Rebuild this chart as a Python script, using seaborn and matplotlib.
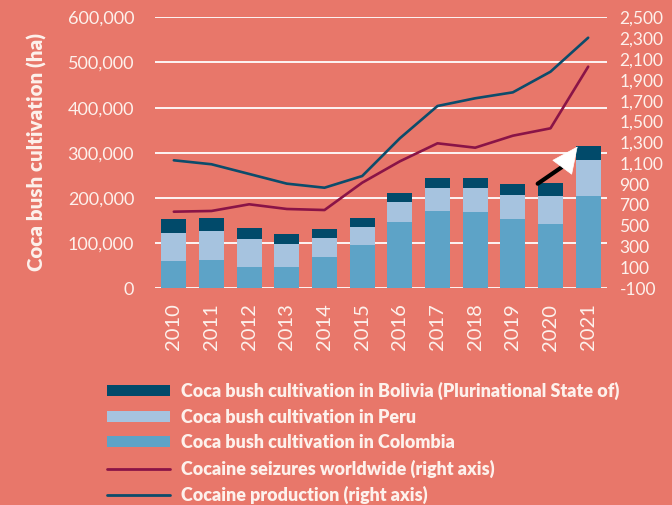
import numpy as np
import pandas as pd
import matplotlib
matplotlib.use("Agg")
import matplotlib.pyplot as plt
import seaborn as sns
from matplotlib.patches import Patch
from matplotlib.lines import Line2D

# ---- data ----
years = [2010, 2011, 2012, 2013, 2014, 2015, 2016, 2017, 2018, 2019, 2020, 2021]
colombia = [61000, 63500, 48000, 48000, 69000, 96000, 146000, 171000, 169000, 154000, 143000, 204000]
peru = [62000, 64000, 60500, 49500, 42500, 40500, 44000, 50000, 54000, 53000, 60500, 80500]
bolivia = [30500, 27500, 25000, 23000, 20500, 19000, 22000, 24000, 22000, 25000, 29500, 31500]
seizures = [635, 642, 706, 661, 651, 913, 1118, 1291, 1249, 1364, 1435, 2026]
production = [1128, 1090, 997, 904, 865, 977, 1339, 1649, 1723, 1780, 1978, 2304]

left_ticks = [0, 100000, 200000, 300000, 400000, 500000, 600000]
right_ticks = list(range(-100, 2501, 200))

labels = [
    "Coca bush cultivation in Bolivia (Plurinational State of)",
    "Coca bush cultivation in Peru",
    "Coca bush cultivation in Colombia",
    "Cocaine seizures worldwide (right axis)",
    "Cocaine production (right axis)",
]

# ---- styles ----
BG = "#E8776A"
C_BOL = "#014A6A"
C_PER = "#A6C3DF"
C_COL = "#5DA3C7"
C_SEIZ = "#8A1447"
C_PROD = "#0C4C6B"
TXT = "#FDF1EC"
FONT = ["Lato", "DejaVu Sans"]

sns.set_theme(style="white")
plt.rcParams["font.family"] = FONT

df = pd.DataFrame({
    "year": years,
    "col": colombia,
    "per": peru,
    "bol": bolivia,
    "seiz": seizures,
    "prod": production,
})
df["c1"] = df["col"]
df["c2"] = df["col"] + df["per"]
df["c3"] = df["c2"] + df["bol"]

fig = plt.figure(figsize=(6.72, 5.05), dpi=100, facecolor=BG)
ax = fig.add_axes([155 / 672, 1 - 288.3 / 505, (607 - 155) / 672, (288.3 - 17.3) / 505])
ax.set_facecolor(BG)

for col, c in [("c3", C_BOL), ("c2", C_PER), ("c1", C_COL)]:
    sns.barplot(data=df, x="year", y=col, native_scale=True, color=c, width=0.66,
                saturation=1, edgecolor="none", linewidth=0, ax=ax, zorder=3)

ax.set_ylim(0, 600000)
ax.set_xlim(2009.5, 2021.5)
ax.set_yticks(left_ticks)
ax.set_yticklabels([f"{v:,}" for v in left_ticks])
ax.set_xticks(years)
ax.set_xticklabels([str(y) for y in years], rotation=90)
ax.grid(axis="y", color="white", linewidth=1.3, zorder=0)
ax.set_axisbelow(True)
for s in ax.spines.values():
    s.set_visible(False)
ax.tick_params(axis="y", length=0, pad=15, labelsize=13, labelcolor=TXT)
ax.tick_params(axis="x", length=0, pad=11, labelsize=14.5, labelcolor=TXT)
ax.set_xlabel("")
ax.set_ylabel("")

ax2 = ax.twinx()
sns.lineplot(data=df, x="year", y="seiz", color=C_SEIZ, linewidth=1.9, ax=ax2)
sns.lineplot(data=df, x="year", y="prod", color=C_PROD, linewidth=1.9, ax=ax2)
ax2.set_ylim(-100, 2500)
ax2.set_yticks(right_ticks)
ax2.set_yticklabels([f"{v:,}" for v in right_ticks])
ax2.tick_params(axis="y", length=0, pad=9, labelsize=12.5, labelcolor=TXT)
for s in ax2.spines.values():
    s.set_visible(False)
ax2.set_ylabel("")
ax2.grid(False)

# arrow annotation
ARROW_START = (2019.66, 231600)
ARROW_MID = (2020.33, 270000)
ARROW_TIP = (2020.72, 314000)
ax.annotate("", xy=ARROW_MID, xytext=ARROW_START,
            arrowprops=dict(arrowstyle="-", color="black", lw=3,
                            shrinkA=0, shrinkB=0), zorder=5)
ax.annotate("", xy=ARROW_TIP, xytext=ARROW_MID,
            arrowprops=dict(arrowstyle="-|>,head_length=1.5,head_width=0.7",
                            color="white", lw=0.5, shrinkA=0, shrinkB=0), zorder=6)

fig.text(37 / 672, 1 - 152 / 505, "Coca bush cultivation (ha)", rotation=90,
         ha="center", va="center", fontsize=14.8, fontweight="heavy", color=TXT)

handles = [
    Patch(facecolor=C_BOL, edgecolor="none"),
    Patch(facecolor=C_PER, edgecolor="none"),
    Patch(facecolor=C_COL, edgecolor="none"),
    Line2D([], [], color=C_SEIZ, lw=2),
    Line2D([], [], color=C_PROD, lw=2),
]
leg = fig.legend(handles, labels, loc="upper left",
                 bbox_to_anchor=(107 / 672, 1 - 382 / 505),
                 frameon=False, borderpad=0, borderaxespad=0,
                 handlelength=3.55, handleheight=0.56, handletextpad=0.62,
                 labelspacing=0.47, prop={"size": 12.85, "weight": "heavy", "family": FONT})
for t in leg.get_texts():
    t.set_color(TXT)

fig.savefig("out.png", dpi=100, facecolor=BG)
